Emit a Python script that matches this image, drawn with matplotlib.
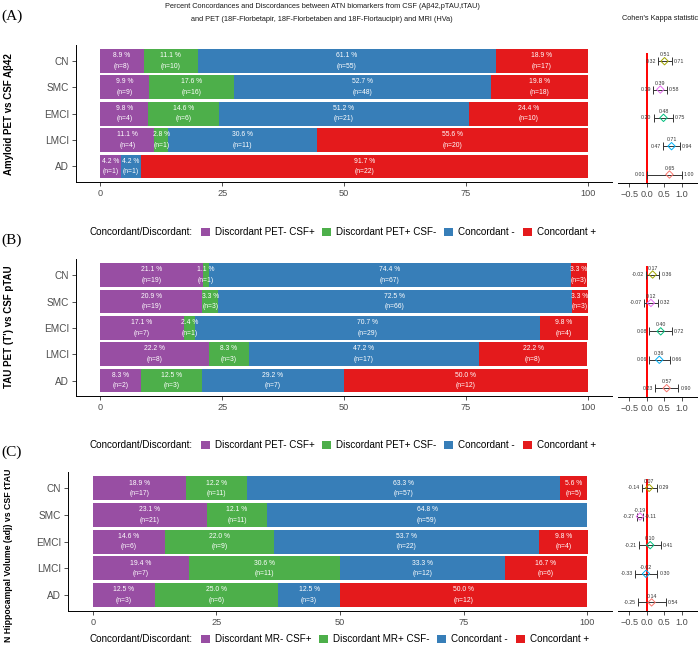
import matplotlib
matplotlib.use('Agg')
import matplotlib.pyplot as plt
from matplotlib.patches import Patch
import numpy as np

plt.rcParams['font.family'] = ['Liberation Sans', 'DejaVu Sans']

W, H = 698, 652

groups = ['CN', 'SMC', 'EMCI', 'LMCI', 'AD']
seg_colors = ['#984EA3', '#4DAF4A', '#377EB8', '#E41A1C']
kappa_colors = ['#A3A500', '#E76BF3', '#00BF7D', '#00B0F6', '#F8766D']

# (A) amyloid PET vs CSF Ab42
a_disc_neg = [8.9, 9.9, 9.8, 11.1, 4.2]
a_disc_neg_n = [8, 9, 4, 4, 1]
a_disc_pos = [11.1, 17.6, 14.6, 2.8, 0.0]
a_disc_pos_n = [10, 16, 6, 1, 0]
a_conc_neg = [61.1, 52.7, 51.2, 30.6, 4.2]
a_conc_neg_n = [55, 48, 21, 11, 1]
a_conc_pos = [18.9, 19.8, 24.4, 55.6, 91.7]
a_conc_pos_n = [17, 18, 10, 20, 22]
a_kappa = [0.51, 0.39, 0.48, 0.71, 0.65]
a_kappa_lo = [0.32, 0.19, 0.20, 0.47, 0.01]
a_kappa_hi = [0.71, 0.58, 0.75, 0.94, 1.00]

# (B) tau PET vs CSF pTAU
b_disc_neg = [21.1, 20.9, 17.1, 22.2, 8.3]
b_disc_neg_n = [19, 19, 7, 8, 2]
b_disc_pos = [1.1, 3.3, 2.4, 8.3, 12.5]
b_disc_pos_n = [1, 3, 1, 3, 3]
b_conc_neg = [74.4, 72.5, 70.7, 47.2, 29.2]
b_conc_neg_n = [67, 66, 29, 17, 7]
b_conc_pos = [3.3, 3.3, 9.8, 22.2, 50.0]
b_conc_pos_n = [3, 3, 4, 8, 12]
b_kappa = [0.17, 0.12, 0.40, 0.36, 0.57]
b_kappa_lo = [-0.02, -0.07, 0.08, 0.06, 0.23]
b_kappa_hi = [0.36, 0.32, 0.72, 0.66, 0.90]

# (C) hippocampal volume vs CSF tTAU
c_disc_neg = [18.9, 23.1, 14.6, 19.4, 12.5]
c_disc_neg_n = [17, 21, 6, 7, 3]
c_disc_pos = [12.2, 12.1, 22.0, 30.6, 25.0]
c_disc_pos_n = [11, 11, 9, 11, 6]
c_conc_neg = [63.3, 64.8, 53.7, 33.3, 12.5]
c_conc_neg_n = [57, 59, 22, 12, 3]
c_conc_pos = [5.6, 0.0, 9.8, 16.7, 50.0]
c_conc_pos_n = [5, 0, 4, 6, 12]
c_kappa = [0.07, -0.19, 0.10, -0.02, 0.14]
c_kappa_lo = [-0.14, -0.27, -0.21, -0.33, -0.25]
c_kappa_hi = [0.29, -0.11, 0.41, 0.30, 0.54]

pet_labels = ['Discordant PET- CSF+', 'Discordant PET+ CSF-', 'Concordant -', 'Concordant +']
mr_labels = ['Discordant MR- CSF+', 'Discordant MR+ CSF-', 'Concordant -', 'Concordant +']

fig = plt.figure(figsize=(W / 100, H / 100), dpi=100)


def px_axes(x0, x1, y0, y1):
    return fig.add_axes([x0 / W, 1 - y1 / H, (x1 - x0) / W, (y1 - y0) / H])


def bar_panel(ax, segs, counts, ylab, ylab_y, ylab_size=7):
    y = np.arange(len(groups))
    left = np.zeros(len(groups))
    for vals, ns, col in zip(segs, counts, seg_colors):
        vals = np.array(vals)
        ax.barh(y, vals, left=left, height=0.9, color=col, edgecolor='none')
        for yi, v, n, l in zip(y, vals, ns, left):
            if v > 0:
                ax.text(l + v / 2, yi, f'{v:.1f} %\n(n={n})', ha='center', va='center',
                        color='white', fontsize=4.9, linespacing=1.7)
        left += vals
    ax.set_xlim(-5, 105)
    ax.set_ylim(len(groups) - 0.4, -0.6)
    ax.set_yticks(y)
    ax.set_yticklabels(groups)
    ax.set_xticks([0, 25, 50, 75, 100])
    ax.tick_params(axis='x', labelsize=6.6, colors='#333333', labelcolor='#4D4D4D', length=3, width=0.6, pad=2)
    ax.tick_params(axis='y', labelsize=7.2, colors='#333333', labelcolor='#4D4D4D', length=3, width=0.6, pad=2)
    for s in ['top', 'right']:
        ax.spines[s].set_visible(False)
    for s in ['left', 'bottom']:
        ax.spines[s].set_linewidth(0.7)
    fig.text(9 / W, 1 - ylab_y / H, ylab, rotation=90, ha='center', va='center',
             fontsize=ylab_size, fontweight='bold')


def kappa_panel(ax, est, lo, hi):
    y = np.arange(len(groups))
    ax.axvline(0, color='#FF0000', lw=1.4, zorder=1)
    est, lo, hi = np.array(est), np.array(lo), np.array(hi)
    ax.errorbar(est, y, xerr=[est - lo, hi - est], fmt='none', ecolor='#333333',
                elinewidth=0.7, capsize=2.6, capthick=0.7, zorder=2)
    ax.scatter(est, y, marker='D', s=14, facecolors='none', edgecolors=kappa_colors, linewidths=0.7, zorder=3)
    for yi, e, l, h in zip(y, est, lo, hi):
        ax.annotate(f'{e:.2f}', (e, yi), xytext=(0, 4.6), textcoords='offset points',
                    ha='center', va='center', fontsize=3.8, color='#333333')
        ax.annotate(f'{l:.2f}', (l, yi), xytext=(-1.5, 0), textcoords='offset points',
                    ha='right', va='center', fontsize=3.8, color='#333333')
        ax.annotate(f'{h:.2f}', (h, yi), xytext=(1.5, 0), textcoords='offset points',
                    ha='left', va='center', fontsize=3.8, color='#333333')
    ax.set_xlim(-0.82, 1.466)
    ax.set_ylim(4.3, -0.3)
    ax.set_yticks([])
    ax.set_xticks([-0.5, 0.0, 0.5, 1.0])
    ax.tick_params(axis='x', labelsize=6.6, colors='#333333', labelcolor='#4D4D4D', length=3, width=0.6, pad=2)
    for s in ['top', 'right', 'left']:
        ax.spines[s].set_visible(False)
    ax.spines['bottom'].set_linewidth(0.7)


def legend_row(y_px, labels):
    fig.text(90 / W, 1 - y_px / H, 'Concordant/Discordant:', ha='left', va='center', fontsize=7.1)
    handles = [Patch(facecolor=c, edgecolor='none') for c in seg_colors]
    fig.legend(handles, labels, loc='center left', bbox_to_anchor=(201 / W, 1 - y_px / H),
               ncol=4, frameon=False, fontsize=7.1, handlelength=0.9, handleheight=0.9,
               handletextpad=0.5, columnspacing=0.8, borderpad=0, borderaxespad=0)


ax_a = px_axes(76, 612, 45, 182.3)
bar_panel(ax_a, [a_disc_neg, a_disc_pos, a_conc_neg, a_conc_pos],
          [a_disc_neg_n, a_disc_pos_n, a_conc_neg_n, a_conc_pos_n], 'Amyloid PET vs CSF Aβ42', 114)
kappa_panel(px_axes(618, 698, 52.7, 183), a_kappa, a_kappa_lo, a_kappa_hi)
legend_row(232, pet_labels)

ax_b = px_axes(76, 612, 259.4, 396.3)
bar_panel(ax_b, [b_disc_neg, b_disc_pos, b_conc_neg, b_conc_pos],
          [b_disc_neg_n, b_disc_pos_n, b_conc_neg_n, b_conc_pos_n], "TAU PET (T') vs CSF pTAU", 327)
kappa_panel(px_axes(618, 698, 266, 396.7), b_kappa, b_kappa_lo, b_kappa_hi)
legend_row(445, pet_labels)

ax_c = px_axes(68, 612, 472.3, 611)
bar_panel(ax_c, [c_disc_neg, c_disc_pos, c_conc_neg, c_conc_pos],
          [c_disc_neg_n, c_disc_pos_n, c_conc_neg_n, c_conc_pos_n],
          'N Hippocampal Volume (adj) vs CSF tTAU', 555, ylab_size=6.3)
kappa_panel(px_axes(618, 698, 479.3, 611), c_kappa, c_kappa_lo, c_kappa_hi)
legend_row(639, mr_labels)

fig.text(322 / W, 1 - 6 / H,
         'Percent Concordances and Discordances between ATN biomarkers from CSF (Aβ42,pTAU,tTAU)',
         ha='center', va='center', fontsize=5.3, color='#1A1A1A')
fig.text(322 / W, 1 - 19.5 / H,
         'and PET (18F-Florbetapir, 18F-Florbetaben and 18F-Flortaucipir) and MRI (HVa)',
         ha='center', va='center', fontsize=5.3, color='#1A1A1A')
fig.text(622 / W, 1 - 18 / H, "Cohen's Kappa statistic", ha='left', va='center', fontsize=5.3, color='#1A1A1A')

for lab, y_px in [('(A)', 16), ('(B)', 240), ('(C)', 452)]:
    fig.text(1 / W, 1 - y_px / H, lab, ha='left', va='center', fontsize=11,
             family=['Liberation Serif', 'DejaVu Serif'])

fig.savefig('out.png', dpi=100)
